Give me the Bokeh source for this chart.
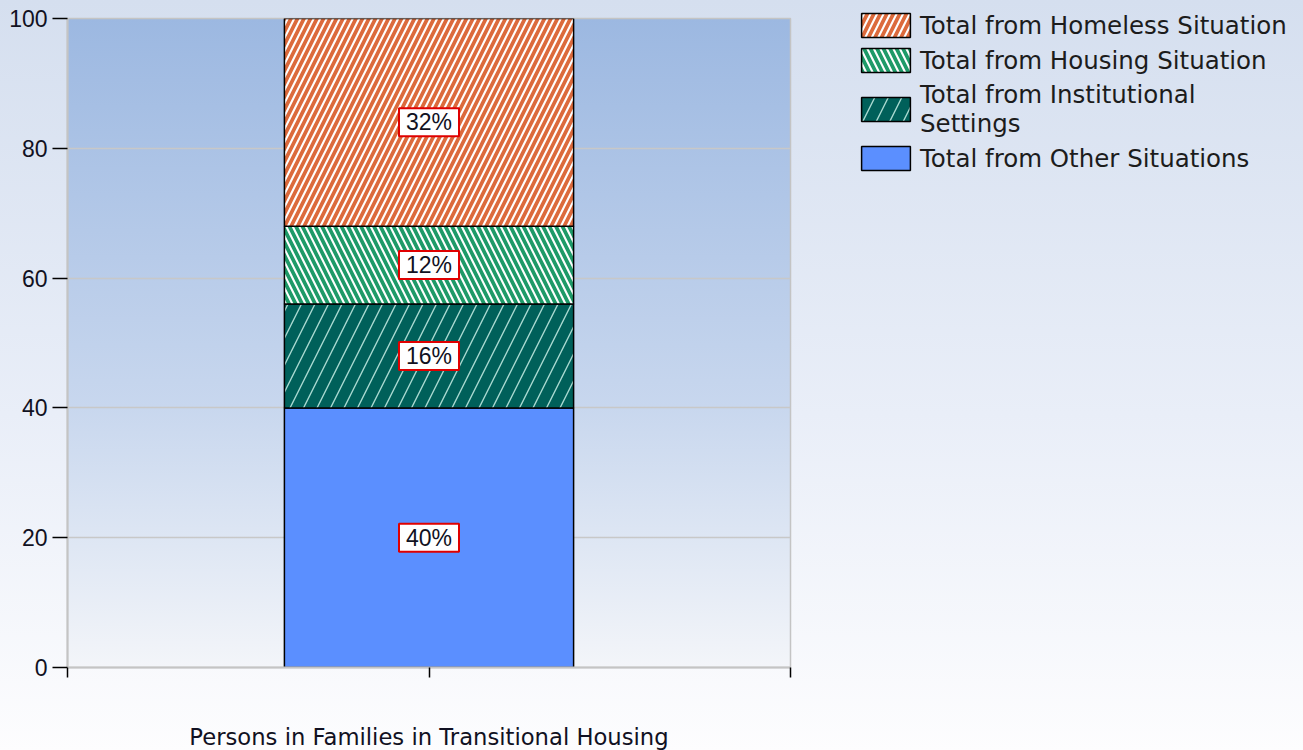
from bokeh.plotting import figure
from bokeh.models import (ColumnDataSource, Legend, LegendItem, FixedTicker,
                          CustomJSTickFormatter)
from bokeh.core.properties import value
from bokeh.embed import file_html
from bokeh.resources import INLINE

# ---- data ----
category = "Persons in Families in Transitional Housing"
series = ["Total from Other Situations",
          "Total from Institutional\nSettings",
          "Total from Housing Situation",
          "Total from Homeless Situation"]
values = [40, 16, 12, 32]
y_ticks = [0, 20, 40, 60, 80, 100]

# ---- styles ----
fill_colors = ["#5b8fff", "#00605a", "#1e9a68", "#dc6a3c"]
hatch_patterns = [" ", "/", "\\", "/"]
hatch_colors = ["white", "#a8d8d0", "white", "white"]
hatch_scales = [12, 27, 13, 13]
hatch_weights = [1, 1.4, 2.1, 2.1]

W, H = 1303, 750
FL, FT, FW, FH = 67, 18, 723, 649
outer_bg = "linear-gradient(180deg, #d5dfef 0%, #e9eef8 55%, #fdfdfe 100%)"
frame_bg = "linear-gradient(180deg, #9cb8e1 0%, #c8d7ee 60%, #f3f5f9 100%)"

p = figure(frame_width=FW, frame_height=FH,
           x_range=(-0.5, 0.5), y_range=(0, 100),
           output_backend="svg", toolbar_location=None,
           min_border_left=FL, min_border_top=FT,
           min_border_right=W - FL - FW, min_border_bottom=H - FT - FH,
           background_fill_color=None, border_fill_color=None,
           outline_line_color="#c4c4c4", outline_line_width=1.5,
           styles={"background": f"{frame_bg} {FL}px {FT}px / {FW}px {FH}px no-repeat, {outer_bg}"})

bottoms = []
tops = []
acc = 0
for v in values:
    bottoms.append(acc)
    acc += v
    tops.append(acc)

renderers = []
for i, name in enumerate(series):
    src = ColumnDataSource(dict(x=[0], bottom=[bottoms[i]], top=[tops[i]]))
    r = p.vbar(x="x", bottom="bottom", top="top", width=0.4, source=src,
               fill_color=fill_colors[i], line_color="black", line_width=1.5,
               hatch_pattern=hatch_patterns[i], hatch_color=hatch_colors[i],
               hatch_scale=hatch_scales[i], hatch_weight=hatch_weights[i])
    renderers.append(r)

mids = [(b + t) / 2 for b, t in zip(bottoms, tops)]
labels = [f"{v}%" for v in values]
lsrc = ColumnDataSource(dict(x=[0] * len(values), y=mids, text=labels))
p.text(x="x", y="y", text="text", source=lsrc,
       text_align="center", text_baseline="middle",
       text_font=value("Liberation Sans"), text_font_size="23px", text_color="#111122",
       background_fill_color="white", border_line_color="#e00000",
       border_line_width=2, padding=dict(x=7, y=1))

# axes
p.yaxis.ticker = FixedTicker(ticks=y_ticks)
p.yaxis.minor_tick_line_color = None
p.yaxis.major_tick_out = 15
p.yaxis.major_tick_in = 0
p.yaxis.major_tick_line_color = "black"
p.yaxis.major_tick_line_width = 1.5
p.yaxis.axis_line_color = "#c4c4c4"
p.yaxis.axis_line_width = 2
p.yaxis.major_label_text_font = "Liberation Sans"
p.yaxis.major_label_text_font_size = "23px"
p.yaxis.major_label_text_color = "#111122"
p.yaxis.major_label_standoff = 5

p.xaxis.ticker = FixedTicker(ticks=[-0.5, 0, 0.5])
p.xaxis.formatter = CustomJSTickFormatter(code="return ''")
p.xaxis.minor_tick_line_color = None
p.xaxis.major_tick_out = 10
p.xaxis.major_tick_in = 0
p.xaxis.major_tick_line_color = "black"
p.xaxis.major_tick_line_width = 1.5
p.xaxis.axis_line_color = "#c4c4c4"
p.xaxis.axis_line_width = 2
p.xaxis.axis_label = category
p.xaxis.axis_label_text_font = "DejaVu Sans"
p.xaxis.axis_label_text_font_size = "22.7px"
p.xaxis.axis_label_text_font_style = "normal"
p.xaxis.axis_label_text_color = "#111122"
p.xaxis.axis_label_standoff = 46

p.xgrid.grid_line_color = None
p.ygrid.ticker = FixedTicker(ticks=y_ticks)
p.ygrid.grid_line_color = "#c8c8c8"
p.ygrid.grid_line_width = 1.5

items = [LegendItem(label=series[i], renderers=[renderers[i]]) for i in [3, 2, 1, 0]]
legend = Legend(items=items, location=(65, 494), padding=0, margin=0,
                spacing=5, glyph_width=61, glyph_height=30, label_standoff=4,
                label_text_font="DejaVu Sans", label_text_font_size="24.5px",
                label_text_color="#1c1c1c", background_fill_alpha=0,
                border_line_color=None)
p.add_layout(legend, "right")

open("out.html", "w").write(file_html(p, INLINE))
